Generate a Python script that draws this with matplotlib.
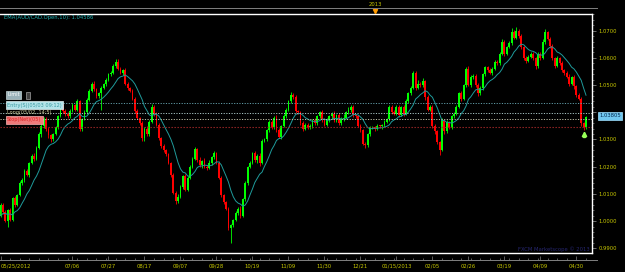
import numpy as np
import pandas as pd
import matplotlib
matplotlib.use('Agg')
import matplotlib.pyplot as plt
from matplotlib.patches import Rectangle

# daily AUD/CAD closes (bar 0 = 05/25/2012)
first_open = 1.0020
closes = [
    1.0060, 1.0035, 1.0000, 1.0040, 1.0005, 1.0085, 1.0060, 1.0095, 1.0140, 1.0150,
    1.0185, 1.0170, 1.0215, 1.0240, 1.0230, 1.0270, 1.0320, 1.0350, 1.0375, 1.0340,
    1.0315, 1.0300, 1.0320, 1.0345, 1.0385, 1.0420, 1.0405, 1.0395, 1.0385, 1.0405,
    1.0425, 1.0410, 1.0440, 1.0340, 1.0375, 1.0400, 1.0445, 1.0480, 1.0505, 1.0485,
    1.0460, 1.0470, 1.0490, 1.0505, 1.0520, 1.0540, 1.0545, 1.0570, 1.0585, 1.0560,
    1.0545, 1.0555, 1.0505, 1.0490, 1.0480, 1.0450, 1.0405, 1.0380, 1.0360, 1.0305,
    1.0340, 1.0320, 1.0365, 1.0420, 1.0395, 1.0355, 1.0305, 1.0275, 1.0260, 1.0245,
    1.0215, 1.0170, 1.0105, 1.0075, 1.0090, 1.0125, 1.0165, 1.0115, 1.0160, 1.0200,
    1.0230, 1.0265, 1.0225, 1.0205, 1.0220, 1.0200, 1.0195, 1.0215, 1.0235, 1.0250,
    1.0215, 1.0160, 1.0095, 1.0070, 1.0045, 0.9975, 0.9985, 1.0005, 1.0030, 1.0045,
    1.0020, 1.0080, 1.0140, 1.0200, 1.0215, 1.0250, 1.0225, 1.0240, 1.0215, 1.0295,
    1.0300, 1.0335, 1.0365, 1.0345, 1.0380, 1.0335, 1.0310, 1.0350, 1.0385, 1.0410,
    1.0440, 1.0465, 1.0455, 1.0405, 1.0400, 1.0360, 1.0340, 1.0355, 1.0345, 1.0350,
    1.0370, 1.0360, 1.0385, 1.0400, 1.0375, 1.0355, 1.0370, 1.0385, 1.0395, 1.0370,
    1.0390, 1.0360, 1.0375, 1.0380, 1.0400, 1.0410, 1.0420, 1.0390, 1.0385, 1.0350,
    1.0335, 1.0285, 1.0280, 1.0320, 1.0345, 1.0345, 1.0340, 1.0350, 1.0348, 1.0352,
    1.0365, 1.0375, 1.0420, 1.0400, 1.0395, 1.0420, 1.0390, 1.0420, 1.0395, 1.0440,
    1.0470, 1.0490, 1.0545, 1.0490, 1.0505, 1.0500, 1.0515, 1.0455, 1.0410, 1.0420,
    1.0350, 1.0330, 1.0290, 1.0262, 1.0370, 1.0330, 1.0365, 1.0345, 1.0385, 1.0395,
    1.0420, 1.0470, 1.0450, 1.0500, 1.0560, 1.0500, 1.0530, 1.0535, 1.0500, 1.0470,
    1.0490, 1.0540, 1.0565, 1.0555, 1.0545, 1.0560, 1.0585, 1.0580, 1.0615, 1.0660,
    1.0615, 1.0640, 1.0655, 1.0695, 1.0675, 1.0700, 1.0680, 1.0640, 1.0600, 1.0590,
    1.0605, 1.0615, 1.0600, 1.0570, 1.0615, 1.0600, 1.0660, 1.0695, 1.0670, 1.0645,
    1.0600, 1.0570, 1.0600, 1.0580, 1.0555, 1.0545, 1.0530, 1.0505, 1.0530, 1.0495,
    1.0465, 1.0450, 1.0360, 1.0345, 1.0381,
]
# wick lengths beyond the body, in pips
up_pips = [
    8, 5, 6, 4, 7, 5, 9, 4, 6, 8,  5, 7, 4, 6, 9, 5, 7, 12, 6, 8,
    5, 7, 4, 6, 5, 8, 10, 6, 5, 7,  9, 6, 8, 5, 4, 7, 6, 5, 8, 10,
    6, 5, 7, 4, 6, 5, 8, 6, 10, 12,  7, 5, 9, 6, 4, 7, 5, 6, 4, 8,
    6, 9, 5, 10, 7, 5, 6, 4, 8, 5,  6, 4, 7, 5, 8, 6, 5, 9, 4, 6,
    7, 8, 5, 9, 6, 12, 7, 10, 6, 8,  5, 7, 4, 6, 5, 8, 6, 4, 7, 5,
    9, 5, 6, 4, 7, 5, 8, 6, 9, 5,  7, 4, 6, 8, 5, 10, 6, 5, 7, 4,
    6, 8, 5, 7, 4, 6, 9, 5, 7, 6,  4, 8, 5, 6, 7, 5, 9, 4, 6, 8,
    5, 7, 6, 12, 5, 8, 6, 7, 4, 5,  6, 4, 7, 5, 6, 4, 5, 6, 4, 5,
    7, 5, 8, 6, 10, 5, 7, 4, 6, 9,  6, 8, 5, 7, 12, 6, 10, 5, 7, 6,
    5, 7, 4, 6, 8, 5, 7, 4, 6, 5,  7, 6, 9, 5, 8, 10, 6, 7, 5, 6,
    8, 5, 7, 6, 9, 5, 7, 6, 8, 10,  6, 5, 7, 15, 8, 12, 6, 9, 5, 7,
    6, 5, 8, 4, 7, 6, 9, 10, 5, 7,  6, 4, 8, 5, 7, 5, 6, 9, 4, 6,
    5, 7, 8, 4, 6,
]
dn_pips = [
    6, 8, 5, 20, 6, 5, 7, 6, 4, 8,  6, 5, 7, 4, 8, 6, 5, 9, 6, 7,
    8, 10, 6, 5, 7, 4, 6, 8, 5, 6,  5, 7, 6, 10, 8, 5, 6, 4, 7, 5,
    8, 6, 60, 5, 7, 4, 6, 5, 7, 6,  5, 8, 6, 7, 5, 6, 8, 5, 7, 9,
    12, 8, 6, 5, 7, 6, 8, 5, 6, 7,  5, 8, 6, 12, 7, 5, 8, 6, 5, 7,
    6, 5, 8, 7, 10, 6, 8, 5, 7, 6,  6, 5, 8, 7, 6, 9, 55, 8, 6, 7,
    8, 6, 5, 7, 6, 5, 8, 10, 12, 6,  5, 7, 6, 8, 5, 7, 6, 9, 5, 6,
    7, 5, 6, 8, 5, 7, 10, 6, 8, 5,  7, 6, 8, 5, 9, 6, 7, 5, 8, 6,
    6, 8, 5, 7, 6, 5, 8, 6, 7, 5,  7, 6, 12, 8, 6, 5, 7, 6, 5, 8,
    6, 5, 7, 8, 5, 6, 9, 5, 7, 6,  5, 7, 6, 8, 5, 7, 6, 8, 5, 6,
    6, 8, 7, 20, 6, 8, 5, 7, 6, 5,  6, 5, 8, 6, 7, 5, 8, 6, 7, 9,
    6, 8, 5, 7, 6, 8, 5, 7, 6, 5,  7, 6, 5, 8, 6, 7, 5, 8, 6, 7,
    5, 6, 8, 10, 7, 6, 5, 8, 6, 7,  6, 8, 5, 7, 6, 8, 5, 7, 6, 8,
    7, 6, 9, 10, 5,
]

tick_bars = [0, 30, 45, 60, 75, 90, 105, 120, 135, 150, 165, 180, 195, 210, 225, 240]
tick_labels = ['05/25/2012', '07/06', '07/27', '08/17', '09/07', '09/28', '10/19', '11/09',
               '11/30', '12/21', '01/15/2013', '02/05', '02/26', '03/19', '04/09', '04/30']
year_bar = 156

price_ticks = [0.99, 1.00, 1.01, 1.02, 1.03, 1.04, 1.05, 1.06, 1.07]
limit_price = 1.0433
entry_price = 1.0396
long_price = 1.0374
stop_price = 1.0347
last_price = '1.03805'
ema_text = 'EMA(AUD/CAD.Open,10): 1.04586'

W, H = 625, 272


def fx(p):
    return p / W


def fy(p):
    return 1 - p / H


close = np.array(closes)
open_ = np.concatenate([[first_open], close[:-1]])
high = np.maximum(open_, close) + np.array(up_pips) / 10000
low = np.minimum(open_, close) - np.array(dn_pips) / 10000
idx = np.arange(len(close))
colors = np.where(close >= open_, '#00ff00', '#ff0000')
ema = pd.Series(open_).ewm(span=10, adjust=False).mean()

fig = plt.figure(figsize=(W / 100, H / 100), dpi=100, facecolor='black')
ax = fig.add_axes([0, fy(253), fx(592), (253 - 14) / H])
ax.set_facecolor('black')
ax.set_xlim(-0.21, 246.5)
ax.set_ylim(0.98827, 1.07614)

ax.vlines(idx, low, high, colors=colors, lw=0.6)
body = np.where(np.abs(close - open_) < 0.0002, 0.0002, close - open_)
ax.bar(idx, body, bottom=open_, width=0.78, color=colors, linewidth=0)
ax.plot(idx, ema, color='#1f9b9b', lw=0.7)

ax.axhline(limit_price, color='#5f9aa5', lw=0.7, ls=(0, (1.2, 1.5)))
ax.axhline(entry_price, color='#a8c4c4', lw=0.7, ls=(0, (1.2, 1.5)))
ax.axhline(long_price, color='#c0c0a8', lw=0.7, ls=(0, (1.2, 1.5)))
ax.axhline(stop_price, color='#a02828', lw=0.8, ls=(0, (1.2, 1.5)))

# up arrow under last bar
ax.plot(idx[-1] - 1, 1.0320, marker='^', ms=3.2, color='#98ff58', mec='#98ff58')
ax.plot(idx[-1] - 1, 1.0312, marker='s', ms=1.6, color='#98ff58', mec='#98ff58')

for s in ['top', 'right', 'bottom']:
    ax.spines[s].set_color('white')
    ax.spines[s].set_linewidth(1)
ax.spines['left'].set_visible(False)
ax.set_xticks([])
ax.yaxis.tick_right()
ax.set_yticks(price_ticks)
ax.set_yticks(np.arange(0.99, 1.076, 0.002), minor=True)
# the 1.0400 label sits under the last-price box
ax.set_yticklabels(['' if abs(v - 1.04) < 1e-9 else '%.4f' % v for v in price_ticks])
ax.tick_params(axis='y', which='major', colors='#808080', length=3, width=0.6,
               labelcolor='#c8c800', labelsize=3.8, pad=1.5)
ax.tick_params(axis='y', which='minor', colors='#808080', length=1.5, width=0.5)

# bottom date axis
axb = fig.add_axes([0, fy(260), fx(597), 6 / H])
axb.set_facecolor('none')
axb.set_xlim(-0.21, 597 / 592 * 246.7 - 0.21)
axb.set_ylim(0, 1)
for s in ['top', 'right', 'left']:
    axb.spines[s].set_visible(False)
axb.spines['bottom'].set_color('#808080')
axb.spines['bottom'].set_linewidth(0.7)
axb.set_yticks([])
axb.set_xticks(tick_bars, tick_labels)
axb.set_xticks(np.arange(0, 246, 4), minor=True)
axb.tick_params(axis='x', which='major', direction='in', length=3, width=0.5,
                colors='#808080', labelcolor='#c8c800', labelsize=3.8, pad=2.5)
axb.tick_params(axis='x', which='minor', direction='in', length=1.5, width=0.5,
                colors='#808080')
axb.get_xticklabels()[0].set_ha('left')

# top year strip
axt = fig.add_axes([0, fy(14), fx(597), 6 / H])
axt.set_facecolor('none')
axt.set_xlim(axb.get_xlim())
axt.set_ylim(0, 1)
for s in ['bottom', 'right', 'left']:
    axt.spines[s].set_visible(False)
axt.spines['top'].set_color('#808080')
axt.spines['top'].set_linewidth(0.7)
axt.set_yticks([])
axt.set_xticks([])
axt.plot(year_bar, 0.5, marker='v', ms=3, color='#ff9a00', mec='#ff9a00', clip_on=False)
fig.text(fx(375.5), fy(4.5), '2013', ha='center', va='center', color='#c8c800', fontsize=3.8)

fig.text(fx(4), fy(17), ema_text, ha='left', va='center', color='#20b0b0', fontsize=3.8)

# order labels on the left
fig.text(fx(7), fy(95), 'Limit', ha='left', va='center', color='white', fontsize=3.6,
         bbox=dict(boxstyle='square,pad=0.3', fc='#9ab2ba', ec='#c8d8d8', lw=0.5))
fig.patches.append(Rectangle((fx(26), fy(99)), fx(4), 7 / H, transform=fig.transFigure,
                             fc='#404040', ec='#a0a0a0', lw=0.5))
fig.text(fx(7), fy(105), 'Entry(S)(05/03 09:12)', ha='left', va='center', color='#3a9aa0',
         fontsize=3.6, bbox=dict(boxstyle='square,pad=0.3', fc='#b4e4ea', ec='#e0f0f0', lw=0.5))
fig.text(fx(7), fy(112.5), 'Long(05/02, 14:5)', ha='left', va='center', color='#c8c898',
         fontsize=3.6)
fig.text(fx(7), fy(120), 'Stop(Net)(05)', ha='left', va='center', color='#d82020',
         fontsize=3.6, bbox=dict(boxstyle='square,pad=0.3', fc='#f07a7a', ec='#f8b0b0', lw=0.5))

fig.text(fx(599), fy(115.7), last_price, ha='left', va='center', color='#002850', fontsize=3.8,
         bbox=dict(boxstyle='square,pad=0.25', fc='#70c8f0', ec='#a0e0ff', lw=0.5))

fig.text(fx(590), fy(249), 'FXCM Marketscope \u00a9 2013', ha='right', va='center',
         color='#262670', fontsize=3.8)

fig.savefig('out.png', dpi=100, facecolor='black')
